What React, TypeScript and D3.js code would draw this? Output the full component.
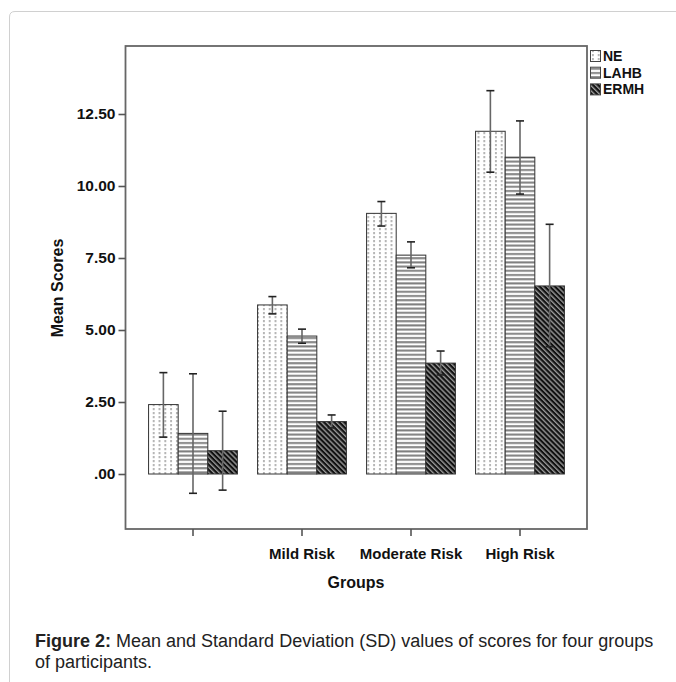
import React, { useRef, useEffect } from 'react';
import * as d3 from 'd3';

const categories = ['', 'Mild Risk', 'Moderate Risk', 'High Risk'];
const seriesNames = ['NE', 'LAHB', 'ERMH'];

const neMean = [2.41, 5.87, 9.05, 11.9];
const neLow = [1.28, 5.56, 8.61, 10.48];
const neHigh = [3.52, 6.16, 9.46, 13.31];

const lahbMean = [1.41, 4.79, 7.6, 11.0];
const lahbLow = [-0.67, 4.54, 7.16, 9.72];
const lahbHigh = [3.48, 5.03, 8.06, 12.26];

const ermhMean = [0.81, 1.82, 3.85, 6.53];
const ermhLow = [-0.56, 1.6, 3.44, 4.42];
const ermhHigh = [2.18, 2.05, 4.27, 8.67];

const yTicks = [0, 2.5, 5, 7.5, 10, 12.5];
const yTickLabels = ['.00', '2.50', '5.00', '7.50', '10.00', '12.50'];

const FONT = '"Liberation Sans", Arial, sans-serif';

function App() {
  const svgRef = useRef<SVGSVGElement>(null);

  useEffect(() => {
    const svg = d3.select(svgRef.current);
    svg.selectAll('*').remove();

    const frame = { left: 125.5, top: 46, right: 587, bottom: 529 };

    // pattern fills
    const defs = svg.append('defs');
    const pNE = defs
      .append('pattern')
      .attr('id', 'pNE')
      .attr('patternUnits', 'userSpaceOnUse')
      .attr('width', 5.8)
      .attr('height', 4);
    pNE.append('rect').attr('width', 5.8).attr('height', 4).attr('fill', '#fff');
    pNE.append('rect').attr('x', 2.3).attr('width', 1.2).attr('height', 2.2).attr('fill', '#8a8a8a');

    const pLAHB = defs
      .append('pattern')
      .attr('id', 'pLAHB')
      .attr('patternUnits', 'userSpaceOnUse')
      .attr('width', 4)
      .attr('height', 4.2);
    pLAHB.append('rect').attr('width', 4).attr('height', 4.2).attr('fill', '#fff');
    pLAHB.append('rect').attr('y', 1).attr('width', 4).attr('height', 2).attr('fill', '#808080');

    const pERMH = defs
      .append('pattern')
      .attr('id', 'pERMH')
      .attr('patternUnits', 'userSpaceOnUse')
      .attr('width', 3.6)
      .attr('height', 10)
      .attr('patternTransform', 'rotate(-45)');
    pERMH.append('rect').attr('width', 3.6).attr('height', 10).attr('fill', '#111');
    pERMH.append('rect').attr('x', 0).attr('width', 1.4).attr('height', 10).attr('fill', '#999');

    const fills = ['url(#pNE)', 'url(#pLAHB)', 'url(#pERMH)'];

    const series = [
      { name: seriesNames[0], mean: neMean, low: neLow, high: neHigh },
      { name: seriesNames[1], mean: lahbMean, low: lahbLow, high: lahbHigh },
      { name: seriesNames[2], mean: ermhMean, low: ermhLow, high: ermhHigh },
    ];

    // outer card
    svg
      .append('path')
      .attr('d', 'M9.5,682 L9.5,17 Q9.5,11.5 15,11.5 L676,11.5')
      .attr('fill', 'none')
      .attr('stroke', '#d0d0d0')
      .attr('stroke-width', 1);

    const x0 = d3.scaleBand().domain(categories).range([138.5, 574.5]).padding(0);
    const x1 = d3.scaleBand().domain(seriesNames).range([0, x0.bandwidth()]).paddingOuter(0.34);
    const y = d3.scaleLinear().domain([0, 12.5]).range([474, 114]);

    // bars
    series.forEach((s, si) => {
      svg
        .append('g')
        .selectAll('rect')
        .data(s.mean)
        .join('rect')
        .attr('x', (d, i) => x0(categories[i])! + x1(s.name)!)
        .attr('y', (d) => y(d))
        .attr('width', x1.bandwidth())
        .attr('height', (d) => y(0) - y(d))
        .attr('fill', fills[si])
        .attr('stroke', '#333')
        .attr('stroke-width', 1);
    });

    // error bars
    series.forEach((s) => {
      const g = svg.append('g');
      s.mean.forEach((m, i) => {
        const cx = x0(categories[i])! + x1(s.name)! + x1.bandwidth() / 2;
        g.append('line')
          .attr('x1', cx)
          .attr('x2', cx)
          .attr('y1', y(s.low[i]))
          .attr('y2', y(s.high[i]))
          .attr('stroke', '#666')
          .attr('stroke-width', 1.6);
        [s.low[i], s.high[i]].forEach((v) => {
          g.append('line')
            .attr('x1', cx - 4)
            .attr('x2', cx + 4)
            .attr('y1', y(v))
            .attr('y2', y(v))
            .attr('stroke', '#222')
            .attr('stroke-width', 1.6);
        });
      });
    });

    // frame
    svg
      .append('rect')
      .attr('x', frame.left)
      .attr('y', frame.top)
      .attr('width', frame.right - frame.left)
      .attr('height', frame.bottom - frame.top)
      .attr('fill', 'none')
      .attr('stroke', '#666')
      .attr('stroke-width', 1.8);

    // y axis
    const yAxis = d3
      .axisLeft(y)
      .tickValues(yTicks)
      .tickSize(7)
      .tickPadding(3)
      .tickFormat((d, i) => yTickLabels[i]);
    const gy = svg.append('g').attr('transform', `translate(${frame.left},0)`).call(yAxis);
    gy.select('.domain').remove();
    gy.selectAll('line').attr('stroke', '#555').attr('stroke-width', 1.6);
    gy.selectAll('text')
      .attr('font-family', FONT)
      .attr('font-size', 15.5)
      .attr('font-weight', 'bold')
      .attr('fill', '#111');

    // x axis
    const xAxis = d3.axisBottom(x0).tickSize(7).tickPadding(12);
    const gx = svg.append('g').attr('transform', `translate(0,${frame.bottom})`).call(xAxis);
    gx.select('.domain').remove();
    gx.selectAll('line').attr('stroke', '#555').attr('stroke-width', 1.6);
    gx.selectAll('text')
      .attr('font-family', FONT)
      .attr('font-size', 15)
      .attr('font-weight', 'bold')
      .attr('fill', '#111');

    // axis titles
    svg
      .append('text')
      .attr('transform', 'translate(63,288) rotate(-90)')
      .attr('text-anchor', 'middle')
      .attr('font-family', FONT)
      .attr('font-size', 16)
      .attr('font-weight', 'bold')
      .attr('fill', '#111')
      .text('Mean Scores');
    svg
      .append('text')
      .attr('x', 356)
      .attr('y', 588)
      .attr('text-anchor', 'middle')
      .attr('font-family', FONT)
      .attr('font-size', 16)
      .attr('font-weight', 'bold')
      .attr('fill', '#111')
      .text('Groups');

    // legend
    const lg = svg.append('g').attr('transform', 'translate(590,50)');
    series.forEach((s, i) => {
      lg.append('rect')
        .attr('x', 0.5)
        .attr('y', i * 16.7 + 0.5)
        .attr('width', 10)
        .attr('height', 11)
        .attr('fill', fills[i])
        .attr('stroke', '#444')
        .attr('stroke-width', 1);
      lg.append('text')
        .attr('x', 13)
        .attr('y', i * 16.7 + 11)
        .attr('font-family', FONT)
        .attr('font-size', 14)
        .attr('font-weight', 'bold')
        .attr('fill', '#111')
        .text(s.name);
    });

    // caption
    const cap = svg
      .append('text')
      .attr('font-family', FONT)
      .attr('font-size', 18)
      .attr('fill', '#222');
    const l1 = cap.append('tspan').attr('x', 35).attr('y', 647);
    l1.append('tspan').attr('font-weight', 'bold').text('Figure 2:');
    l1.append('tspan').text(' Mean and Standard Deviation (SD) values of scores for four groups');
    cap.append('tspan').attr('x', 35).attr('y', 668).text('of participants.');
  }, []);

  return (
    <div style={{ position: 'absolute', left: 0, top: 0 }}>
      <svg ref={svgRef} width={676} height={682} style={{ display: 'block', background: '#fff' }} />
    </div>
  );
}

export default App;
